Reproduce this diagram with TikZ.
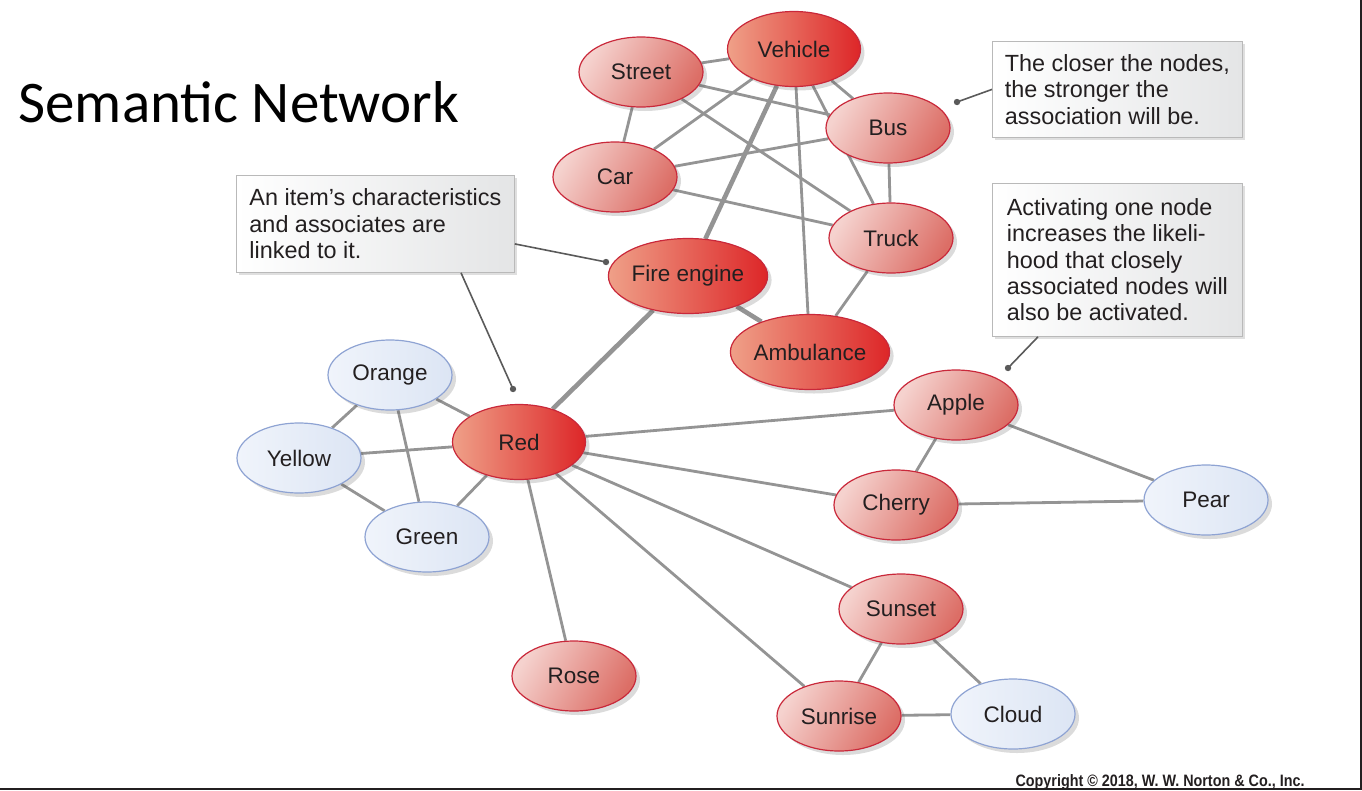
\documentclass[tikz,border=0pt]{standalone}
\usepackage{fontspec}
\setmainfont{Liberation Sans}
\newfontfamily\titlefont{Carlito}
\usetikzlibrary{shapes.geometric,shadows,backgrounds}
\definecolor{inkblack}{HTML}{231F20}
\definecolor{linkgray}{HTML}{949494}
\definecolor{pointgray}{HTML}{5A5A5A}
\definecolor{rimred}{HTML}{C9283A}
\definecolor{rimblue}{HTML}{8EA3D3}
\definecolor{pinkL}{HTML}{F5D2CE}
\definecolor{pinkR}{HTML}{DC6E66}
\definecolor{redL}{HTML}{EFA088}
\definecolor{redR}{HTML}{DD2628}
\definecolor{blueL}{HTML}{F0F4FB}
\definecolor{blueR}{HTML}{DCE5F4}
\definecolor{boxgray}{HTML}{E4E5E6}
\tikzset{
  concept/.style={ellipse, minimum width=124pt, minimum height=70pt, inner sep=0pt,
    line width=1.2pt, text=inkblack, font=\fontsize{22.5}{26}\selectfont,
    drop shadow={shadow xshift=4pt, shadow yshift=-4pt, opacity=0.2, fill=black!70}},
  pinknode/.style={concept, draw=rimred, left color=pinkL, right color=pinkR, shading angle=60},
  rednode/.style={concept, draw=rimred, minimum width=133pt, minimum height=75pt,
    left color=redL, right color=redR},
  bluenode/.style={concept, draw=rimblue, left color=blueL, right color=blueR},
  link/.style={draw=linkgray, line width=2.8pt},
  strong/.style={link, line width=4.6pt},
  notebox/.style={rectangle, draw=gray!55, line width=0.8pt, left color=white, right color=boxgray,
    anchor=north west, align=left, inner sep=0pt, text=inkblack,
    font=\fontsize{23.4}{26.3}\selectfont,
    drop shadow={shadow xshift=3pt, shadow yshift=-3pt, opacity=0.18, fill=black!70}},
  pointer/.style={draw=pointgray, line width=1.6pt}
}
\begin{document}
\begin{tikzpicture}[x=1pt,y=-1pt]
\useasboundingbox (0,0) rectangle (1362,790);
% frame edges
\fill[inkblack] (1360,0) rectangle (1362,790);
\fill[inkblack] (0,788) rectangle (1362,790);
% title
\node[anchor=base west, font=\titlefont\fontsize{59}{70}\selectfont] (title) at (15,122) {Semantic Network};
% vehicle cluster
\node[rednode]  (vehicle) at (794,49)  {Vehicle};
\node[pinknode] (street)  at (641,72)  {Street};
\node[pinknode] (car)     at (615,177) {Car};
\node[pinknode] (bus)     at (888,128) {Bus};
\node[pinknode] (truck)   at (891,238) {Truck};
\node[rednode]  (fire)    at (688,276) {Fire engine};
\node[rednode]  (amb)     at (810,352) {Ambulance};
% colour cluster
\node[rednode]  (red)     at (519,442) {Red};
\node[bluenode] (orange)  at (390,375) {Orange};
\node[bluenode] (yellow)  at (299,458) {Yellow};
\node[bluenode] (green)   at (427,537) {Green};
\node[pinknode] (rose)    at (574,676) {Rose};
\node[pinknode] (apple)   at (956,405) {Apple};
\node[pinknode] (cherry)  at (896,505) {Cherry};
\node[bluenode] (pear)    at (1206,500) {Pear};
\node[pinknode] (sunset)  at (901,609) {Sunset};
\node[pinknode] (sunrise) at (839,716) {Sunrise};
\node[bluenode] (cloud)   at (1013,714) {Cloud};
% links
\begin{scope}[on background layer]
\draw[link] (street) -- (vehicle);
\draw[link] (street) -- (car);
\draw[link] (street) -- (bus);
\draw[link] (street) -- (truck);
\draw[link] (vehicle) -- (car);
\draw[link] (vehicle) -- (bus);
\draw[link] (vehicle) -- (truck);
\draw[link] (vehicle) -- (amb);
\draw[strong] (vehicle) -- (fire);
\draw[link] (car) -- (bus);
\draw[link] (car) -- (truck);
\draw[link] (bus) -- (truck);
\draw[link] (truck) -- (amb);
\draw[strong] (fire) -- (amb);
\draw[strong] (fire) -- (red);
\draw[link] (red) -- (orange);
\draw[link] (red) -- (yellow);
\draw[link] (red) -- (green);
\draw[link] (orange) -- (yellow);
\draw[link] (orange) -- (green);
\draw[link] (yellow) -- (green);
\draw[link] (red) -- (apple);
\draw[link] (red) -- (cherry);
\draw[link] (red) -- (sunset);
\draw[link] (red) -- (sunrise);
\draw[link] (red) -- (rose);
\draw[link] (apple) -- (cherry);
\draw[link] (apple) -- (pear);
\draw[link] (cherry) -- (pear);
\draw[link] (sunset) -- (sunrise);
\draw[link] (sunset) -- (cloud);
\draw[link] (sunrise) -- (cloud);
\end{scope}
% callouts
\node[notebox, minimum width=250pt, minimum height=96pt] (closer) at (992,41)
  {The closer the nodes,\\the stronger the\\association will be.};
\node[notebox, minimum width=250pt, minimum height=153pt] (activ) at (992,183)
  {Activating one node\\increases the likeli-\\hood that closely\\associated nodes will\\also be activated.};
\node[notebox, minimum width=278pt, minimum height=97pt] (items) at (236,175)
  {An item’s characteristics\\and associates are\\linked to it.};
\coordinate (tipA) at (957,102);
\coordinate (tipB) at (1008,368);
\coordinate (tipC) at (606,262);
\coordinate (tipD) at (513,389);
\draw[pointer] (closer.west) -- (tipA);
\draw[pointer] ([xshift=46pt]activ.south west) -- (tipB);
\draw[pointer] ([yshift=-20pt]items.east) -- (tipC);
\draw[pointer] ([xshift=225pt]items.south west) -- (tipD);
\foreach \t in {tipA,tipB,tipC,tipD}
  \fill[pointgray] (\t) circle (3.2pt);
% copyright line
\node[anchor=base east, font=\bfseries\fontsize{16.5}{18}\selectfont, text=inkblack] (copy) at (1308,786)
  {\scalebox{0.87}[1]{Copyright \textcopyright\ 2018, W. W. Norton \& Co., Inc.}};
\end{tikzpicture}
\end{document}
